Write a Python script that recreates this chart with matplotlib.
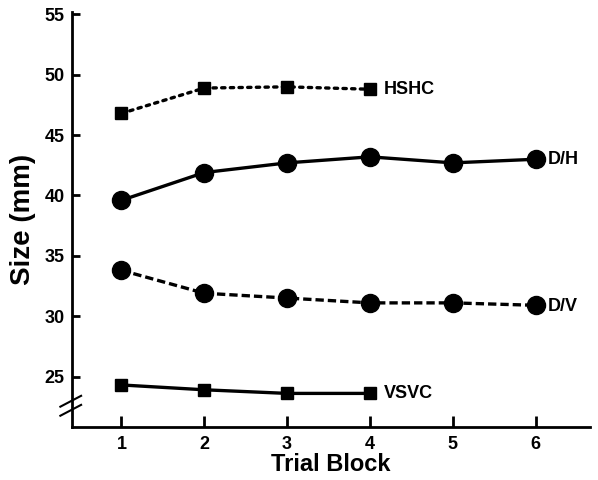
import matplotlib.pyplot as plt
import numpy as np

plt.rcParams['font.family'] = ['Liberation Sans', 'DejaVu Sans']
plt.rcParams['font.weight'] = 'bold'

# data
blocks = [1, 2, 3, 4, 5, 6]
hshc = [46.8, 48.9, 49.0, 48.8]
dh = [39.6, 41.9, 42.7, 43.2, 42.7, 43.0]
dv = [33.8, 31.9, 31.5, 31.1, 31.1, 30.9]
vsvc = [24.3, 23.9, 23.6, 23.6]
yticks = [25, 30, 35, 40, 45, 50, 55]

fig = plt.figure(figsize=(5.98, 4.8), dpi=100)
ax = fig.add_axes([0.12, 0.11, 0.867, 0.865])

lw = 2.4
ax.plot(blocks[:4], hshc, color='black', lw=lw, ls=(0, (1, 1.6)), dash_capstyle='round',
        marker='s', ms=8)
ax.plot(blocks, dh, color='black', lw=lw, ls='-', marker='o', ms=13)
ax.plot(blocks, dv, color='black', lw=lw, ls=(0, (2.5, 1.2)), marker='o', ms=13)
ax.plot(blocks[:4], vsvc, color='black', lw=lw, ls='-', marker='s', ms=8)

# series labels at line ends
lab_kw = dict(textcoords='offset points', va='center', fontsize=13, fontweight='bold')
ax.annotate('HSHC', (blocks[3], hshc[-1]), xytext=(10, 0), **lab_kw)
ax.annotate('D/H', (blocks[5], dh[-1]), xytext=(9, 0), **lab_kw)
ax.annotate('D/V', (blocks[5], dv[-1]), xytext=(9, -1), **lab_kw)
ax.annotate('VSVC', (blocks[3], vsvc[-1]), xytext=(10, 0), **lab_kw)

ax.set_xlim(0.4, 6.66)
ax.set_ylim(20.8, 55.2)
ax.set_xticks(blocks)
ax.set_yticks(yticks)
ax.tick_params(axis='both', direction='in', width=2, labelsize=13)
ax.tick_params(axis='x', length=8, pad=6)
ax.tick_params(axis='y', length=6, pad=5)
for lbl in ax.get_xticklabels() + ax.get_yticklabels():
    lbl.set_fontweight('bold')

for s in ['top', 'right']:
    ax.spines[s].set_visible(False)
for s in ['left', 'bottom']:
    ax.spines[s].set_linewidth(2)

ax.set_xlabel('Trial Block', fontsize=17, fontweight='bold', labelpad=0)
ax.set_ylabel('Size (mm)', fontsize=20, fontweight='bold', labelpad=6)

# axis break marks
trans = ax.get_yaxis_transform()
ax.plot([0, 0], [22.2, 22.95], color='white', lw=3, transform=trans, clip_on=False)
for yb in [22.95, 22.2]:
    ax.plot([-0.022, 0.018], [yb - 0.45, yb + 0.45], color='black', lw=1.5,
            transform=trans, clip_on=False)

fig.savefig('out.png', dpi=100)
